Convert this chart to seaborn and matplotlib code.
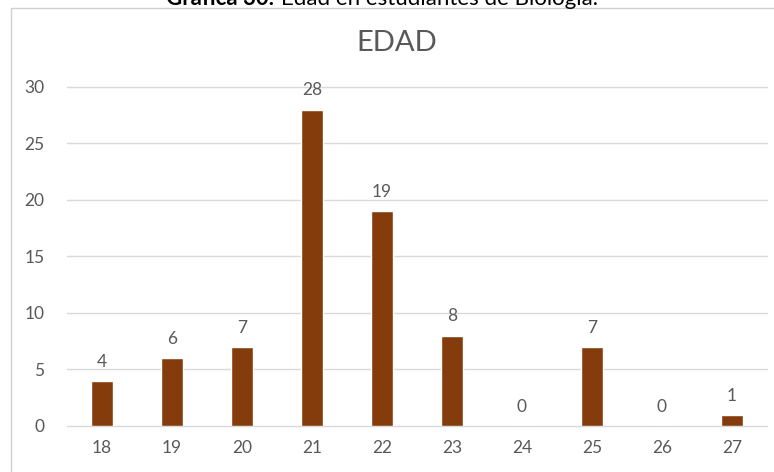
import seaborn as sns
import matplotlib.pyplot as plt
import pandas as pd
from matplotlib.lines import Line2D

# data
edades = ["18", "19", "20", "21", "22", "23", "24", "25", "26", "27"]
cantidad = [4, 6, 7, 28, 19, 8, 0, 7, 0, 1]

df = pd.DataFrame({"edad": edades, "n": cantidad})

sns.set_style("white")
plt.rcParams["font.family"] = ["Lato", "DejaVu Sans"]

gris = "#595959"
grid = "#D9D9D9"
barra = "#843C0C"

fig = plt.figure(figsize=(7.74, 4.72), dpi=100)
ax = fig.add_axes([0.0862, 0.0975, 0.9048, 0.7182])

sns.barplot(data=df, x="edad", y="n", color=barra, width=0.314,
            saturation=1, ax=ax)

ax.set_ylim(0, 30)
ax.set_yticks(range(0, 31, 5))
for y in range(0, 31, 5):
    ax.axhline(y, color=grid, lw=1, zorder=0, clip_on=False)
for s in ax.spines.values():
    s.set_visible(False)
ax.tick_params(axis="y", length=0, pad=16, labelsize=12.5, labelcolor=gris)
ax.tick_params(axis="x", length=0, pad=10, labelsize=12.5, labelcolor=gris)
ax.set_xlabel("")
ax.set_ylabel("")

ax.bar_label(ax.containers[0], labels=[str(v) for v in cantidad],
             padding=8, fontsize=12.5, color=gris)

# chart title
fig.text(397 / 774, 1 - 43 / 472, "EDAD", ha="center", va="center",
         fontsize=21, color=gris)

# caption above (clipped at top, as in the source)
fig.text(274 / 774, 1 - 5 / 472, "Gráfica 30.", ha="right", va="baseline",
         fontsize=16, fontweight="bold", color="black")
fig.text(281 / 774, 1 - 5 / 472, "Edad en estudiantes de Biología.",
         ha="left", va="baseline", fontsize=16, color="black")

# chart frame
fig.add_artist(Line2D([11 / 774, 1], [1 - 7.5 / 472] * 2,
                      transform=fig.transFigure, color="#D0D0D0", lw=1))
fig.add_artist(Line2D([11 / 774] * 2, [0, 1 - 7.5 / 472],
                      transform=fig.transFigure, color="#D0D0D0", lw=1))

fig.savefig("out.png", dpi=100)
